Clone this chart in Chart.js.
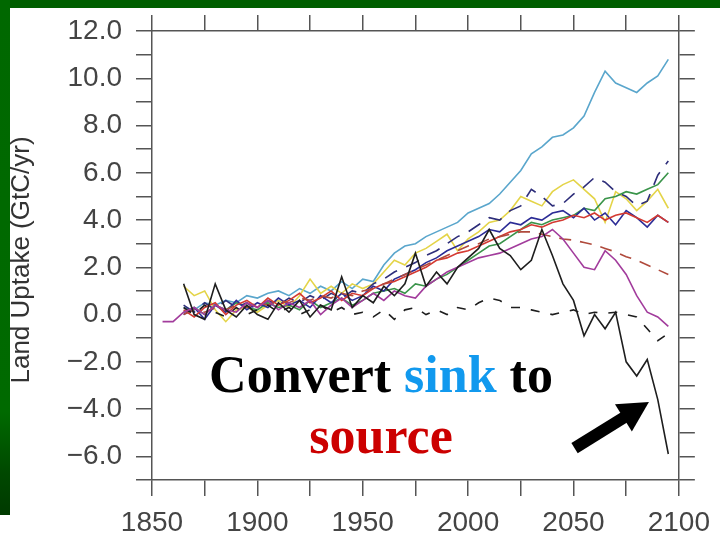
<!DOCTYPE html>
<html>
<head>
<meta charset="utf-8">
<script src="https://cdn.jsdelivr.net/npm/chart.js@4.4.1/dist/chart.umd.min.js"></script>
<style>
html, body { margin: 0; padding: 0; background: #fff; }
#wrap { width: 720px; height: 538px; position: relative; }
</style>
</head>
<body>
<div id="wrap"><canvas id="grafico" width="720" height="538"></canvas></div>
<script>
// Dados (passo de 5 anos)
const anos = [1855, 1860, 1865, 1870, 1875, 1880, 1885, 1890, 1895, 1900,
    1905, 1910, 1915, 1920, 1925, 1930, 1935, 1940, 1945, 1950,
    1955, 1960, 1965, 1970, 1975, 1980, 1985, 1990, 1995, 2000,
    2005, 2010, 2015, 2020, 2025, 2030, 2035, 2040, 2045, 2050,
    2055, 2060, 2065, 2070, 2075, 2080, 2085, 2090, 2095];

const azulClaro = [null, null, 0.3, 0.2, 0.5, 0.4, 0.6, 0.5, 0.8, 0.7,
    0.9, 1.0, 0.8, 1.1, 0.9, 1.2, 1.0, 1.4, 1.1, 1.5,
    1.4, 2.1, 2.6, 2.9, 3.0, 3.3, 3.5, 3.7, 3.9, 4.3,
    4.5, 4.7, 5.1, 5.6, 6.1, 6.8, 7.1, 7.5, 7.6, 7.9,
    8.4, 9.4, 10.3, 9.8, 9.6, 9.4, 9.8, 10.1, 10.8];

const amarelo = [null, null, 1.2, 0.8, 1.0, 0.2, -0.3, 0.2, 0.3, 0.1,
    0.4, 0.6, 0.3, 0.8, 1.5, 0.9, 1.2, 0.9, 1.3, 1.1,
    1.3, 1.8, 2.3, 2.1, 2.6, 2.8, 3.1, 3.4, 2.7, 3.2,
    3.5, 3.9, 4.0, 4.4, 5.0, 4.8, 4.6, 5.2, 5.5, 5.7,
    5.3, 4.9, 3.9, 5.2, 4.9, 4.4, 4.8, 5.3, 4.5];

const verde = [null, null, 0.1, 0.3, 0.0, 0.4, 0.2, 0.5, 0.3, 0.2,
    0.5, 0.3, 0.4, 0.2, 0.6, 0.3, 0.5, 0.7, 0.4, 0.6,
    0.9, 1.0, 1.1, 0.9, 1.3, 1.2, 1.5, 1.7, 2.0, 2.3,
    2.6, 2.9, 3.0, 3.3, 3.6, 3.9, 3.8, 4.0, 4.1, 4.2,
    4.5, 4.4, 4.9, 5.0, 5.2, 5.1, 5.3, 5.5, 6.0];

const azulEscuro = [null, null, 0.0, 0.3, -0.2, 0.4, 0.1, 0.6, 0.2, 0.5,
    0.3, 0.7, 0.4, 0.6, 0.3, 0.8, 0.5, 0.9, 0.6, 0.8,
    1.2, 1.0, 1.5, 1.7, 1.9, 2.2, 2.4, 2.7, 2.9, 3.1,
    3.3, 3.6, 3.5, 3.9, 3.8, 4.1, 4.0, 4.3, 4.4, 4.1,
    4.5, 4.0, 4.3, 3.8, 4.4, 4.1, 3.7, 4.2, 3.9];

const vermelho = [null, null, 0.2, -0.1, 0.3, 0.5, 0.0, 0.4, 0.6, 0.3,
    0.7, 0.4, 0.6, 0.9, 0.5, 0.7, 1.0, 0.6, 0.9, 0.8,
    1.1, 1.3, 1.4, 1.6, 1.8, 2.0, 2.3, 2.4, 2.6, 2.7,
    2.9, 3.1, 3.3, 3.5, 3.6, 3.8, 3.7, 3.9, 4.0, 4.2,
    4.1, 4.3, 4.0, 4.2, 4.3, 4.1, 3.9, 4.2, 3.9];

const roxo = [-0.3, -0.3, 0.1, 0.3, 0.0, 0.4, 0.2, 0.1, 0.5, 0.3,
    0.6, 0.2, 0.5, 0.3, 0.6, 0.0, 0.4, 0.7, 0.3, 0.6,
    0.9, 0.6, 1.0, 0.8, 0.7, 1.2, 1.5, 1.8, 2.0, 2.2,
    2.4, 2.5, 2.6, 2.8, 3.0, 3.2, 3.3, 3.6, 3.2, 2.6,
    2.0, 1.9, 2.7, 2.3, 1.7, 0.8, 0.1, -0.1, -0.5];

const preto = [null, null, 1.3, 0.0, -0.2, 1.3, 0.2, -0.1, 0.4, 0.0,
    -0.2, 0.5, 0.1, 0.6, -0.1, 0.4, 0.2, 1.6, 0.3, 0.8,
    0.5, 1.2, 0.8, 1.3, 2.6, 1.2, 1.8, 1.3, 2.0, 2.4,
    2.8, 3.6, 2.8, 2.5, 1.9, 2.3, 3.6, 2.5, 1.3, 0.6,
    -0.9, 0.0, -0.6, 0.1, -2.0, -2.6, -1.9, -3.6, -5.9];

const pretoTracejado = [null, null, 0.3, 0.0, 0.4, 0.1, -0.1, 0.3, 0.0, 0.2,
    0.4, 0.1, 0.3, 0.0, 0.2, 0.4, 0.1, 0.3, 0.0, 0.1,
    -0.1, 0.2, -0.2, 0.2, 0.3, 0.0, 0.2, 0.0, 0.3, 0.2,
    0.5, 0.7, 0.6, 0.3, 0.3, 0.2, 0.1, 0.0, 0.1, 0.2,
    0.0, 0.1, 0.05, 0.1, 0.0, -0.1, -0.6, -1.1, -0.8];

const marromTracejado = [null, null, 0.0, 0.2, 0.1, 0.3, 0.2, 0.4, 0.3, 0.5,
    0.4, 0.6, 0.5, 0.7, 0.6, 0.8, 0.7, 0.9, 0.8, 1.0,
    1.1, 1.3, 1.5, 1.7, 1.9, 2.1, 2.3, 2.5, 2.7, 2.9,
    3.0, 3.2, 3.3, 3.4, 3.5, 3.5, 3.4, 3.3, 3.2, 3.15,
    3.05, 2.95, 2.8, 2.65, 2.45, 2.3, 2.1, 1.9, 1.7];

const azulTracejado = [null, null, 0.4, 0.1, 0.5, 0.2, 0.6, 0.3, 0.5, 0.2,
    0.6, 0.4, 0.7, 0.5, 0.8, 0.6, 0.9, 0.7, 1.0, 0.9,
    1.3, 1.5, 1.8, 2.0, 2.2, 2.5, 2.7, 3.0, 3.3, 3.5,
    3.8, 4.1, 4.0, 4.4, 4.6, 5.3, 5.0, 4.6, 4.7, 5.1,
    5.4, 5.8, 5.6, 5.2, 5.0, 4.6, 4.8, 5.9, 6.5];

const ticksX = [1850, 1900, 1950, 2000, 2050, 2100];
const ticksY = [-6, -4, -2, 0, 2, 4, 6, 8, 10, 12];

const corEixo = '#555';
const fonteTicks = { family: '"Liberation Sans", Arial, sans-serif', size: 28 };

function serie(valores, cor, tracejado) {
    return {
        data: anos.map((a, i) => ({ x: a, y: valores[i] })),
        borderColor: cor,
        borderWidth: 1.6,
        borderDash: tracejado || [],
        pointRadius: 0,
        fill: false,
        tension: 0,
        spanGaps: false,
    };
}

function formatarY(v) {
    const txt = Math.abs(v).toFixed(1);
    return v < 0 ? '\u2212' + txt : txt;
}

// Fundo verde do slide
const fundoPlugin = {
    id: 'fundo',
    beforeDraw(chart) {
        const ctx = chart.ctx;
        ctx.save();
        ctx.fillStyle = '#ffffff';
        ctx.fillRect(0, 0, 720, 538);
        ctx.fillStyle = '#005f00';
        ctx.fillRect(0, 0, 720, 8);
        const grad = ctx.createLinearGradient(0, 0, 0, 515);
        grad.addColorStop(0, '#006800');
        grad.addColorStop(0.8, '#006a00');
        grad.addColorStop(0.92, '#004800');
        grad.addColorStop(1, '#003a00');
        ctx.fillStyle = grad;
        ctx.fillRect(0, 0, 10, 515);
        ctx.restore();
    }
};

// Título do eixo, texto e seta
const anotacoesPlugin = {
    id: 'anotacoes',
    afterDraw(chart) {
        const ctx = chart.ctx;
        const sx = chart.scales.x;
        const sy = chart.scales.y;
        ctx.save();

        // título eixo Y
        ctx.translate(22, 260);
        ctx.rotate(-Math.PI / 2);
        ctx.font = '26px "Liberation Sans", Arial, sans-serif';
        ctx.fillStyle = '#333';
        ctx.textAlign = 'center';
        ctx.textBaseline = 'middle';
        ctx.fillText('Land Uptake (GtC/yr)', 0, 0);
        ctx.setTransform(1, 0, 0, 1, 0, 0);

        // "Convert sink to"
        ctx.font = 'bold 52px "Liberation Serif", "Times New Roman", serif';
        ctx.textBaseline = 'alphabetic';
        ctx.textAlign = 'left';
        const partes = [['Convert ', '#000'], ['sink', '#1199ee'], [' to', '#000']];
        const total = partes.reduce((s, p) => s + ctx.measureText(p[0]).width, 0);
        let x = 381 - total / 2;
        partes.forEach(p => {
            ctx.fillStyle = p[1];
            ctx.fillText(p[0], x, 392);
            x += ctx.measureText(p[0]).width;
        });
        ctx.textAlign = 'center';
        ctx.fillStyle = '#cc0000';
        ctx.fillText('source', 381, 453);

        // seta
        const x0 = sx.getPixelForValue(2050.5), y0 = sy.getPixelForValue(-5.65);
        const x1 = sx.getPixelForValue(2085.8), y1 = sy.getPixelForValue(-3.7);
        const ang = Math.atan2(y1 - y0, x1 - x0);
        const comp = Math.hypot(x1 - x0, y1 - y0);
        ctx.translate(x0, y0);
        ctx.rotate(ang);
        ctx.fillStyle = '#000';
        ctx.fillRect(0, -6, comp - 28, 12);
        ctx.beginPath();
        ctx.moveTo(comp, 0);
        ctx.lineTo(comp - 30, -16);
        ctx.lineTo(comp - 30, 16);
        ctx.closePath();
        ctx.fill();
        ctx.restore();
    }
};

const eixoGrid = { drawOnChartArea: false, drawTicks: true, tickLength: 16, color: corEixo, lineWidth: 1.5 };
const eixoBorda = { display: true, color: corEixo, width: 1.5 };

new Chart(document.getElementById('grafico'), {
    type: 'line',
    data: {
        datasets: [
            serie(preto, '#1e1e1e'),
            serie(roxo, '#a23c9c'),
            serie(pretoTracejado, '#1e1e1e', [9, 11]),
            serie(marromTracejado, '#b04a3c', [12, 9]),
            serie(vermelho, '#d43a32'),
            serie(azulEscuro, '#2c2c96'),
            serie(verde, '#3a944a'),
            serie(azulTracejado, '#2e2e7a', [14, 10]),
            serie(amarelo, '#e4d448'),
            serie(azulClaro, '#5aa6cc'),
        ]
    },
    options: {
        responsive: false,
        animation: false,
        devicePixelRatio: 1,
        layout: { padding: 0 },
        plugins: {
            legend: { display: false },
            tooltip: { enabled: false },
            title: { display: false },
        },
        scales: {
            x: {
                type: 'linear',
                position: 'bottom',
                min: 1850,
                max: 2100,
                ticks: {
                    stepSize: 25,
                    autoSkip: false,
                    maxRotation: 0,
                    padding: 10,
                    color: '#444',
                    font: fonteTicks,
                    callback: v => ticksX.includes(v) ? String(v) : '',
                },
                grid: eixoGrid,
                border: eixoBorda,
                afterFit: s => { s.height = 58; },
            },
            x2: {
                type: 'linear',
                position: 'top',
                display: true,
                min: 1850,
                max: 2100,
                ticks: { stepSize: 25, autoSkip: false, maxRotation: 0, callback: () => '' },
                grid: eixoGrid,
                border: eixoBorda,
                afterFit: s => { s.height = 31; },
            },
            y: {
                type: 'linear',
                position: 'left',
                min: -7,
                max: 12,
                ticks: {
                    stepSize: 1,
                    autoSkip: false,
                    padding: 14,
                    color: '#444',
                    font: fonteTicks,
                    callback: v => ticksY.includes(v) ? formatarY(v) : '',
                },
                grid: eixoGrid,
                border: eixoBorda,
                afterFit: s => { s.width = 152; },
            },
            y2: {
                type: 'linear',
                position: 'right',
                display: true,
                min: -7,
                max: 12,
                ticks: { stepSize: 1, autoSkip: false, callback: () => '' },
                grid: eixoGrid,
                border: eixoBorda,
                afterFit: s => { s.width = 38; },
            }
        }
    },
    plugins: [fundoPlugin, anotacoesPlugin]
});
</script>
</body>
</html>
